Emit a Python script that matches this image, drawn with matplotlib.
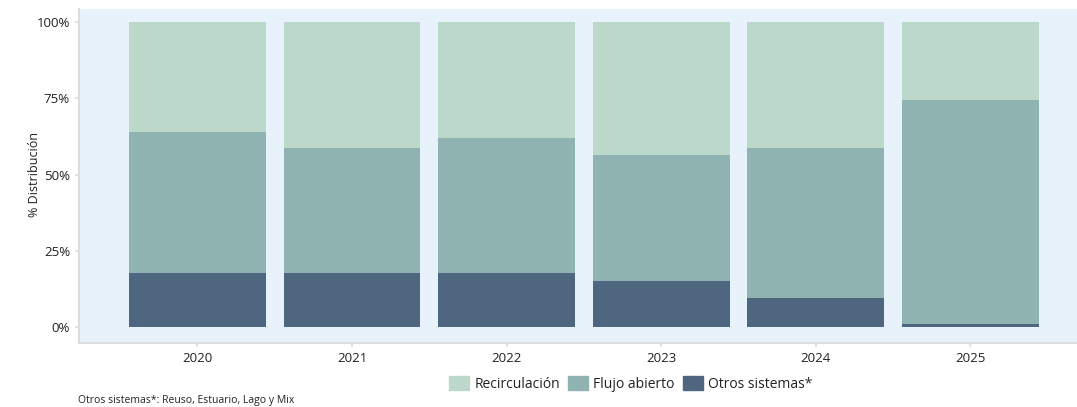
import numpy as np
import matplotlib.pyplot as plt
from matplotlib.patches import Patch

plt.rcParams['font.family'] = ['Open Sans', 'DejaVu Sans']

# Data (% distribution per year)
years = ['2020', '2021', '2022', '2023', '2024', '2025']
otros = [17.7, 17.7, 17.7, 15.1, 9.5, 1.0]
flujo = [46.2, 41.0, 44.3, 41.3, 49.2, 73.4]
recirc = [36.1, 41.3, 38.0, 43.6, 41.3, 25.6]

c_recirc = '#BCD8CA'
c_flujo = '#8FB3B0'
c_otros = '#4F6681'

fig = plt.figure(figsize=(10.77, 4.07), dpi=100)
ax = fig.add_axes([79 / 1077, 1 - 343 / 407, 998 / 1077, 334 / 407])
ax.set_facecolor('#E8F2FB')

x = np.arange(len(years))
w = 0.886
otros_a = np.array(otros)
flujo_a = np.array(flujo)
ax.bar(x, otros, width=w, color=c_otros)
ax.bar(x, flujo, width=w, bottom=otros_a, color=c_flujo)
ax.bar(x, recirc, width=w, bottom=otros_a + flujo_a, color=c_recirc)

ax.set_xlim(-0.766, 5.69)
ax.set_ylim(-5.2, 104.3)
ax.set_yticks([0, 25, 50, 75, 100])
ax.set_yticklabels(['0%', '25%', '50%', '75%', '100%'])
ax.set_xticks(x)
ax.set_xticklabels(years)
ax.tick_params(axis='both', colors='#DDDDDD', labelcolor='#222222',
               labelsize=9.5, length=3, width=1.2)

for s in ['top', 'right']:
    ax.spines[s].set_visible(False)
for s in ['left', 'bottom']:
    ax.spines[s].set_color('#DDDDDD')
    ax.spines[s].set_linewidth(1.5)

ax.set_ylabel('% Distribución', fontsize=9, color='#222222')
ax.yaxis.set_label_coords(-0.038, 0.503)

handles = [Patch(color=c_recirc, label='Recirculación'),
           Patch(color=c_flujo, label='Flujo abierto'),
           Patch(color=c_otros, label='Otros sistemas*')]
fig.legend(handles=handles, loc='center', bbox_to_anchor=(631 / 1077, 1 - 384 / 407),
           ncol=3, frameon=False, fontsize=10, handlelength=1.4, handleheight=1.2,
           handletextpad=0.4, columnspacing=0.6, labelcolor='#222222')

fig.text(78 / 1077, 1 - 400 / 407, 'Otros sistemas*: Reuso, Estuario, Lago y Mix',
         fontsize=7.5, color='#222222', va='center', ha='left')

fig.savefig('out.png', dpi=100)
